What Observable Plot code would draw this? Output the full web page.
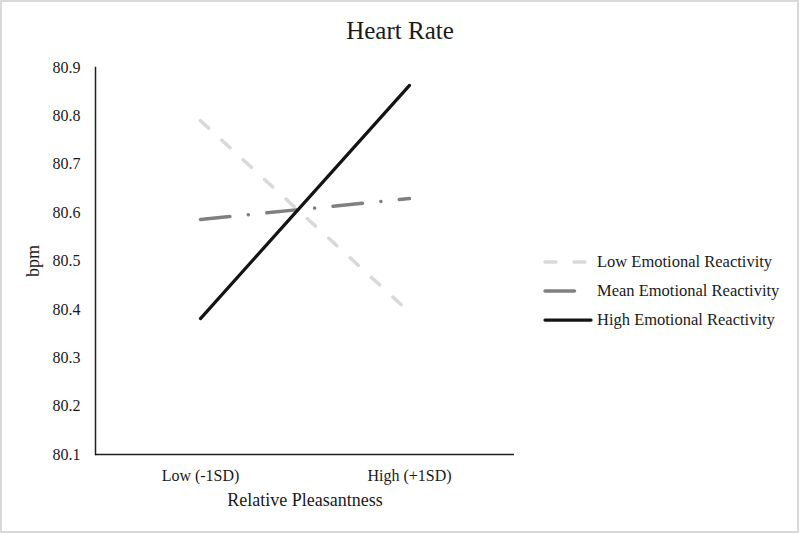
<!DOCTYPE html>
<html><head><meta charset="utf-8">
<script src="https://cdn.jsdelivr.net/npm/d3@7"></script>
<script src="https://cdn.jsdelivr.net/npm/@observablehq/plot@0.6"></script>
<style>
html,body{margin:0;padding:0;background:#fff;}
#wrap{position:relative;width:800px;height:534px;overflow:hidden;font-family:"Liberation Serif","Times New Roman",serif;}
#wrap svg{position:absolute;left:0;top:0;}
#wrap svg text, #wrap svg g{font-family:"Liberation Serif","Times New Roman",serif !important;}
#wrap g[aria-label$="tick label"] text{font-size:16px;}
#wrap g[aria-label$="axis label"] text{font-size:18px;}
</style></head><body><div id="wrap"></div>
<script>
// ---- data ----
const categories = ["Low (-1SD)", "High (+1SD)"];
const seriesNames = ["Low Emotional Reactivity", "Mean Emotional Reactivity", "High Emotional Reactivity"];
const lowER = [80.790, 80.394];
const meanER = [80.586, 80.629];
const highER = [80.381, 80.863];
const yTicks = [80.1, 80.2, 80.3, 80.4, 80.5, 80.6, 80.7, 80.8, 80.9];
const title = "Heart Rate";
const xLabel = "Relative Pleasantness";
const yLabel = "bpm";

// ---- styles ----
const styles = [
  {stroke: "#d9d9d9", width: 3.5, dash: "11,18"},
  {stroke: "#808080", width: 3.5, dash: "29.5,18.5,0.1,18.5"},
  {stroke: "#141414", width: 3.25, dash: null}
];
const seriesVals = [lowER, meanER, highER];
const rows = (vals, s) => categories.map((c, i) => ({category: c, value: vals[i], series: s}));
const serif = '"Liberation Serif", "Times New Roman", serif';

const plot = Plot.plot({
  width: 800, height: 534,
  marginTop: 67, marginBottom: 80, marginLeft: 95, marginRight: 286,
  style: {fontFamily: serif, fontSize: "16px", color: "#1a1a1a", background: "transparent"},
  x: {type: "point", domain: categories, padding: 0.5},
  y: {domain: [80.1, 80.9]},
  marks: [
    Plot.axisY({ticks: yTicks, tickFormat: d => d.toFixed(1), tickSize: 0, tickPadding: 15, fontFamily: serif,
      label: yLabel, labelAnchor: "center", labelOffset: 69, labelArrow: "none"}),
    Plot.axisX({tickSize: 0, tickPadding: 15, fontFamily: serif, label: xLabel, labelAnchor: "center", labelOffset: 51, labelArrow: "none"}),
    Plot.ruleY([80.1], {stroke: "#1f1f1f", strokeWidth: 1.5}),
    Plot.frame({anchor: "left", stroke: "#1f1f1f", strokeWidth: 1.5}),
    ...seriesVals.map((v, k) => Plot.line(rows(v, seriesNames[k]), {
      x: "category", y: "value",
      stroke: styles[k].stroke, strokeWidth: styles[k].width,
      strokeDasharray: styles[k].dash || undefined, strokeLinecap: "round"
    }))
  ]
});
const wrap = document.getElementById("wrap");
wrap.appendChild(plot);

// ---- overlay: title, legend, border ----
const ov = d3.select(wrap).append("svg").attr("width", 800).attr("height", 534)
  .style("font-family", serif);
ov.append("rect").attr("x", 1).attr("y", 1).attr("width", 797).attr("height", 531)
  .attr("fill", "none").attr("stroke", "#d9d9d9").attr("stroke-width", 2);
ov.append("text").attr("x", 400).attr("y", 39).attr("text-anchor", "middle")
  .attr("font-size", 25).attr("fill", "#1a1a1a").text(title);
const lg = ov.append("g").selectAll("g").data(seriesNames).join("g")
  .attr("transform", (d, i) => `translate(545,${262 + i * 29})`);
lg.append("line").attr("x1", 0).attr("x2", (d, i) => i === 2 ? 46 : 44).attr("y1", 0).attr("y2", 0)
  .attr("stroke", (d, i) => styles[i].stroke).attr("stroke-width", (d, i) => styles[i].width)
  .attr("stroke-dasharray", (d, i) => styles[i].dash).attr("stroke-linecap", "round");
lg.append("text").attr("x", 52).attr("y", 5).attr("font-size", 16.5).attr("fill", "#1a1a1a").text(d => d);
</script></body></html>
